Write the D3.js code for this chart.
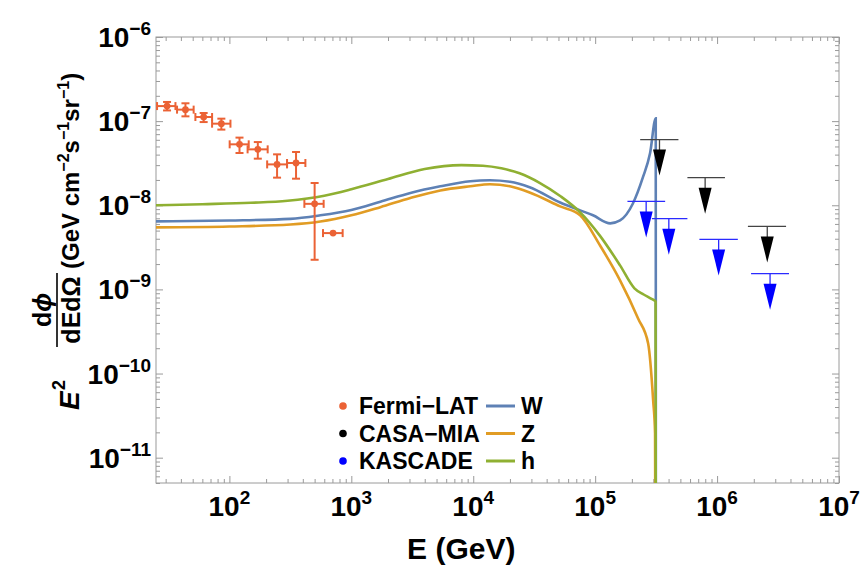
<!DOCTYPE html>
<html>
<head>
<meta charset="utf-8">
<script src="https://cdn.jsdelivr.net/npm/d3@7/dist/d3.min.js"></script>
<style>
  body { margin: 0; background: #fff; }
  svg { font-family: "Liberation Sans", Arial, sans-serif; font-weight: bold; }
</style>
</head>
<body>
<div id="chart"></div>
<script>
// Fermi-LAT points (E in GeV, flux in GeV cm^-2 s^-1 sr^-1)
var fermiE    = [30.8, 43.6, 61.5, 85.9, 121, 171, 246, 352, 500, 708];
var fermiELo  = [25.5, 37.2, 52.6, 72.1, 100.5, 141, 204, 297, 412, 586];
var fermiEHi  = [36.1, 50.9, 72.1, 102, 144, 206, 297, 420, 593, 849];
var fermiF    = [1.51e-7, 1.37e-7, 1.12e-7, 9.33e-8, 5.30e-8, 4.62e-8, 3.06e-8, 3.18e-8, 1.04e-8, 4.67e-9];
var fermiFLo  = [1.34e-7, 1.14e-7, 9.75e-8, 7.93e-8, 4.18e-8, 3.58e-8, 2.13e-8, 2.07e-8, 2.25e-9, null];
var fermiFHi  = [1.69e-7, 1.63e-7, 1.25e-7, 1.07e-7, 6.37e-8, 5.64e-8, 4.03e-8, 4.30e-8, 1.84e-8, null];

// upper limits
var casaE   = [3.37e5, 7.98e5, 2.58e6];
var casaELo = [2.34e5, 5.71e5, 1.79e6];
var casaEHi = [4.82e5, 1.16e6, 3.68e6];
var casaF   = [6.03e-8, 2.13e-8, 5.61e-9];

var kascE   = [2.62e5, 4.02e5, 1.03e6, 2.72e6];
var kascELo = [1.84e5, 2.92e5, 7.16e5, 1.90e6];
var kascEHi = [3.75e5, 5.71e5, 1.48e6, 3.89e6];
var kascF   = [1.11e-8, 6.93e-9, 3.93e-9, 1.54e-9];

// model curves
var wE = [25, 100, 316, 557, 1000, 1730, 3050, 5370, 9450, 1.37e4, 2.0e4, 2.9e4, 5.16e4, 7.53e4, 9.6e4, 1.33e5, 1.6e5, 2.04e5, 2.47e5, 2.82e5, 3.14e5, 3.15e5];
var wF = [6.44e-9, 6.6e-9, 6.9e-9, 7.6e-9, 8.8e-9, 1.1e-8, 1.4e-8, 1.68e-8, 1.93e-8, 1.98e-8, 1.9e-8, 1.64e-8, 1.08e-8, 8.7e-9, 7.6e-9, 6.1e-9, 6.6e-9, 1.05e-8, 2.17e-8, 4.14e-8, 1.08e-7, 1e-14];

var zE = [25, 100, 316, 557, 1000, 1730, 3050, 5370, 9450, 1.37e4, 2.0e4, 2.9e4, 5.16e4, 7.53e4, 1.1e5, 1.6e5, 2.25e5, 2.72e5, 2.99e5, 3.1e5, 3.15e5];
var zF = [5.46e-9, 5.6e-9, 5.9e-9, 6.4e-9, 7.6e-9, 9.5e-9, 1.22e-8, 1.5e-8, 1.68e-8, 1.78e-8, 1.68e-8, 1.42e-8, 9.7e-9, 7.6e-9, 3.3e-9, 1.28e-9, 4.5e-10, 2.28e-10, 4.8e-11, 1.95e-11, 1e-14];

var hE = [25, 60, 150, 300, 600, 1000, 2000, 4000, 8000, 1.2e4, 1.7e4, 2.4e4, 3.5e4, 5.2e4, 7.5e4, 1.1e5, 1.6e5, 2.1e5, 2.5e5, 2.9e5, 3.13e5, 3.15e5];
var hF = [1.0e-8, 1.03e-8, 1.07e-8, 1.13e-8, 1.3e-8, 1.55e-8, 2.05e-8, 2.7e-8, 3.0e-8, 2.95e-8, 2.75e-8, 2.4e-8, 1.85e-8, 1.28e-8, 8.3e-9, 4.3e-9, 1.93e-9, 1.03e-9, 8.7e-10, 7.7e-10, 7.2e-10, 1e-14];

var xDecades = [2, 3, 4, 5, 6, 7];
var yDecades = [-6, -7, -8, -9, -10, -11];

var colW = "#5E81B5", colZ = "#E19C24", colH = "#8FB032", colFermi = "#EB6235";

var margin = { top: 37, right: 26, bottom: 84, left: 156 };
var width = 865 - margin.left - margin.right,
    height = 567 - margin.top - margin.bottom;

var svg = d3.select("#chart").append("svg")
    .attr("width", 865)
    .attr("height", 567);

var g = svg.append("g")
    .attr("transform", "translate(" + margin.left + "," + margin.top + ")");

var x = d3.scaleLog().domain([25, 1e7]).range([0, width]);
var y = d3.scaleLog().domain([5e-12, 1e-6]).range([height, 0]);

g.append("defs").append("clipPath")
    .attr("id", "clip")
    .append("rect")
    .attr("width", width)
    .attr("height", height);

// log ticks, 1..9 x 10^k
function logTicks(scale) {
    var dom = scale.domain(), out = [];
    var lo = Math.floor(Math.log10(dom[0])), hi = Math.ceil(Math.log10(dom[1]));
    for (var k = lo; k <= hi; k++) {
        for (var m = 1; m < 10; m++) {
            var v = m * Math.pow(10, k);
            if (v >= dom[0] * 0.999 && v <= dom[1] * 1.001) out.push(v);
        }
    }
    return out;
}
function isMajor(v) {
    var l = Math.log10(v);
    return Math.abs(l - Math.round(l)) < 1e-6;
}

var xTicks = logTicks(x), yTicks = logTicks(y);

g.append("g").attr("transform", "translate(0," + height + ")")
    .call(d3.axisBottom(x).tickValues(xTicks).tickFormat(""))
    .call(function(s) {
        s.select(".domain").remove();
        s.selectAll(".tick line").attr("stroke", "#9a9a9a")
            .attr("y2", function(d) { return isMajor(d) ? -7 : -4; });
    });
g.append("g")
    .call(d3.axisTop(x).tickValues(xTicks).tickFormat(""))
    .call(function(s) {
        s.select(".domain").remove();
        s.selectAll(".tick line").attr("stroke", "#9a9a9a")
            .attr("y2", function(d) { return isMajor(d) ? 7 : 4; });
    });
g.append("g")
    .call(d3.axisLeft(y).tickValues(yTicks).tickFormat(""))
    .call(function(s) {
        s.select(".domain").remove();
        s.selectAll(".tick line").attr("stroke", "#9a9a9a")
            .attr("x2", function(d) { return isMajor(d) ? 7 : 4; });
    });
g.append("g").attr("transform", "translate(" + width + ",0)")
    .call(d3.axisRight(y).tickValues(yTicks).tickFormat(""))
    .call(function(s) {
        s.select(".domain").remove();
        s.selectAll(".tick line").attr("stroke", "#9a9a9a")
            .attr("x2", function(d) { return isMajor(d) ? -7 : -4; });
    });

g.append("rect")
    .attr("width", width)
    .attr("height", height)
    .attr("fill", "none")
    .attr("stroke", "#9a9a9a")
    .attr("stroke-width", 1);

// tick labels
var xl = g.selectAll(".xlab").data(xDecades).enter().append("text")
    .attr("class", "xlab")
    .attr("x", function(d) { return x(Math.pow(10, d)); })
    .attr("y", height + 33)
    .attr("text-anchor", "middle")
    .attr("font-size", 28);
xl.append("tspan").text("10");
xl.append("tspan").attr("dy", -12).attr("font-size", 19).text(function(d) { return d; });

var yl = g.selectAll(".ylab").data(yDecades).enter().append("text")
    .attr("class", "ylab")
    .attr("x", -5)
    .attr("y", function(d) { return y(Math.pow(10, d)) + 10; })
    .attr("text-anchor", "end")
    .attr("font-size", 28);
yl.append("tspan").text("10");
yl.append("tspan").attr("dy", -12).attr("font-size", 19).text(function(d) { return "\u2212" + (-d); });

// axis titles
g.append("text")
    .attr("x", x(1e4) - 12)
    .attr("y", height + 76)
    .attr("text-anchor", "middle")
    .attr("font-size", 30)
    .text("E (GeV)");

var yt = svg.append("g").attr("transform", "translate(79,410) rotate(-90)");
yt.append("text").attr("x", 0).attr("y", 0).attr("font-size", 28).attr("font-style", "italic").text("E");
yt.append("text").attr("x", 20).attr("y", -14).attr("font-size", 18).text("2");
var num = yt.append("text").attr("x", 100).attr("y", -28).attr("text-anchor", "middle").attr("font-size", 25);
num.append("tspan").text("d");
num.append("tspan").attr("font-style", "italic").text("\u03d5");
yt.append("line").attr("x1", 63).attr("x2", 137).attr("y1", -22).attr("y2", -22)
    .attr("stroke", "#000").attr("stroke-width", 1.6);
yt.append("text").attr("x", 100).attr("y", 1).attr("text-anchor", "middle").attr("font-size", 25).text("dEd\u03a9");
var unit = yt.append("text").attr("x", 141).attr("y", 0).attr("font-size", 24);
unit.append("tspan").text("(GeV cm");
unit.append("tspan").attr("dy", -10).attr("font-size", 16).text("\u22122");
unit.append("tspan").attr("dy", 10).text("s");
unit.append("tspan").attr("dy", -10).attr("font-size", 16).text("\u22121");
unit.append("tspan").attr("dy", 10).text("sr");
unit.append("tspan").attr("dy", -10).attr("font-size", 16).text("\u22121");
unit.append("tspan").attr("dy", 10).text(")");

// curves
var plot = g.append("g").attr("clip-path", "url(#clip)");

var line = d3.line()
    .x(function(d) { return x(d[0]); })
    .y(function(d) { return y(d[1]); })
    .curve(d3.curveMonotoneX);

var curves = [
    { E: wE, F: wF, color: colW },
    { E: zE, F: zF, color: colZ },
    { E: hE, F: hF, color: colH }
];
curves.forEach(function(c) {
    plot.append("path")
        .attr("d", line(d3.zip(c.E, c.F)))
        .attr("fill", "none")
        .attr("stroke", c.color)
        .attr("stroke-width", 2.6);
});

// Fermi-LAT points with error bars
var fermi = fermiE.map(function(e, i) {
    return { E: e, lo: fermiELo[i], hi: fermiEHi[i], F: fermiF[i], flo: fermiFLo[i], fhi: fermiFHi[i] };
});
var fg = plot.selectAll(".fermi").data(fermi).enter().append("g")
    .attr("stroke", colFermi).attr("fill", colFermi).attr("stroke-width", 2);
fg.append("line")
    .attr("x1", function(d) { return x(d.lo); }).attr("x2", function(d) { return x(d.hi); })
    .attr("y1", function(d) { return y(d.F); }).attr("y2", function(d) { return y(d.F); });
fg.append("line")
    .attr("x1", function(d) { return x(d.lo); }).attr("x2", function(d) { return x(d.lo); })
    .attr("y1", function(d) { return y(d.F) - 4; }).attr("y2", function(d) { return y(d.F) + 4; });
fg.append("line")
    .attr("x1", function(d) { return x(d.hi); }).attr("x2", function(d) { return x(d.hi); })
    .attr("y1", function(d) { return y(d.F) - 4; }).attr("y2", function(d) { return y(d.F) + 4; });
var fgy = fg.filter(function(d) { return d.flo != null; });
fgy.append("line")
    .attr("x1", function(d) { return x(d.E); }).attr("x2", function(d) { return x(d.E); })
    .attr("y1", function(d) { return y(d.fhi); }).attr("y2", function(d) { return y(d.flo); });
fgy.append("line")
    .attr("x1", function(d) { return x(d.E) - 4; }).attr("x2", function(d) { return x(d.E) + 4; })
    .attr("y1", function(d) { return y(d.fhi); }).attr("y2", function(d) { return y(d.fhi); });
fgy.append("line")
    .attr("x1", function(d) { return x(d.E) - 4; }).attr("x2", function(d) { return x(d.E) + 4; })
    .attr("y1", function(d) { return y(d.flo); }).attr("y2", function(d) { return y(d.flo); });
fg.append("circle")
    .attr("cx", function(d) { return x(d.E); })
    .attr("cy", function(d) { return y(d.F); })
    .attr("r", 3.4)
    .attr("stroke", "none");

// upper limit arrows
function drawLimits(E, lo, hi, F, lineCol, headCol) {
    var data = E.map(function(e, i) { return { E: e, lo: lo[i], hi: hi[i], F: F[i] }; });
    var ag = plot.append("g").selectAll("g").data(data).enter().append("g");
    ag.append("line")
        .attr("x1", function(d) { return x(d.lo); }).attr("x2", function(d) { return x(d.hi); })
        .attr("y1", function(d) { return y(d.F); }).attr("y2", function(d) { return y(d.F); })
        .attr("stroke", lineCol).attr("stroke-width", 1.3);
    ag.append("line")
        .attr("x1", function(d) { return x(d.E); }).attr("x2", function(d) { return x(d.E); })
        .attr("y1", function(d) { return y(d.F); }).attr("y2", function(d) { return y(d.F) + 12; })
        .attr("stroke", lineCol).attr("stroke-width", 1.3);
    ag.append("path")
        .attr("d", function(d) {
            var cx = x(d.E), cy = y(d.F);
            return "M" + (cx - 6.5) + "," + (cy + 10) + "L" + (cx + 6.5) + "," + (cy + 10) +
                "L" + cx + "," + (cy + 36) + "Z";
        })
        .attr("fill", headCol);
}
drawLimits(casaE, casaELo, casaEHi, casaF, "#444", "#000");
drawLimits(kascE, kascELo, kascEHi, kascF, "#2a2aff", "#0000ff");

// legend
var legPts = [
    { label: "Fermi\u2212LAT", color: colFermi },
    { label: "CASA\u2212MIA", color: "#000" },
    { label: "KASCADE", color: "#0000ff" }
];
var legLines = [
    { label: "W", color: colW },
    { label: "Z", color: colZ },
    { label: "h", color: colH }
];
var leg = svg.append("g");
legPts.forEach(function(d, i) {
    var yy = 406 + i * 27.5;
    leg.append("circle").attr("cx", 343).attr("cy", yy).attr("r", 3.8).attr("fill", d.color);
    leg.append("text").attr("x", 359).attr("y", yy + 8).attr("font-size", 23).text(d.label);
});
legLines.forEach(function(d, i) {
    var yy = 406 + i * 27.5;
    leg.append("line").attr("x1", 486).attr("x2", 515).attr("y1", yy).attr("y2", yy)
        .attr("stroke", d.color).attr("stroke-width", 3);
    leg.append("text").attr("x", 521).attr("y", yy + 8).attr("font-size", 23).text(d.label);
});
</script>
</body>
</html>
